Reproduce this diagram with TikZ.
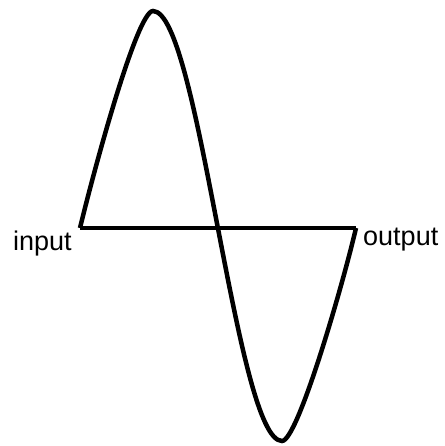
\documentclass[tikz,border=0pt]{standalone}
\usepackage{fontspec}
\setmainfont{Liberation Sans}
\usepackage{tikz}
\usetikzlibrary{positioning,calc}

\begin{document}
\begin{tikzpicture}[
  x=1pt, y=-1pt,
  wire/.style={line width=4.5pt, line join=miter},
  lbl/.style={inner sep=0pt, anchor=base west, font=\fontsize{27}{32}\selectfont}
]
  \useasboundingbox (0,0) rectangle (444,446);
  \coordinate (in) at (80,228);
  \coordinate (peak) at (153,11);
  \coordinate (trough) at (282,441);
  \coordinate (out) at (356,228);
  \node[lbl] (inlbl) at (13,250) {input};
  \node[lbl] (outlbl) at (363,245) {output};
  \draw[wire] (in) -- (out);
  \draw[wire] (in) .. controls (94,170) and (137,11) .. (peak)
    .. controls (199,11) and (236,441) .. (trough)
    .. controls (298,441) and (344,280) .. (out);
\end{tikzpicture}
\end{document}
